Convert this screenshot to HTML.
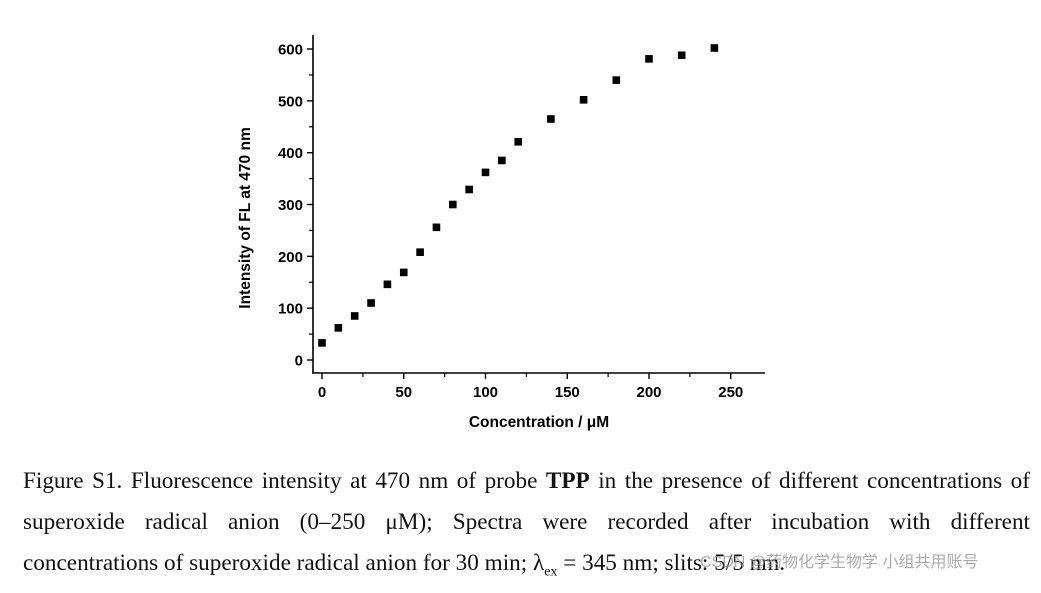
<!DOCTYPE html>
<html><head><meta charset="utf-8"><style>
body{margin:0;background:#fff;width:1041px;height:577px;overflow:hidden;position:relative;font-family:"Liberation Serif",serif}
.cap{position:absolute;left:23px;width:1007px;font-size:23.2px;line-height:41px;text-align:justify;text-align-last:justify;color:#111;white-space:nowrap}
.wm{position:absolute;left:700px;top:548px;font-family:"Liberation Sans","Noto Sans CJK SC",sans-serif;font-size:16px;color:rgba(150,150,150,0.8)}
</style></head><body>
<svg width="1041" height="450" style="position:absolute;left:0;top:0">
<g id="axes"></g><g id="pts"></g>
<text x="0" y="0" transform="translate(250,218) rotate(-90)" text-anchor="middle" font-family="Liberation Sans, sans-serif" font-weight="bold" font-size="15.5">Intensity of FL at 470 nm</text>
<text x="539" y="427" text-anchor="middle" font-family="Liberation Sans, sans-serif" font-weight="bold" font-size="15.5">Concentration / μM</text>
</svg>
<div class="cap" style="top:461px">Figure S1. Fluorescence intensity at 470 nm of probe <b>TPP</b> in the presence of different concentrations of</div>
<div class="cap" style="top:502px">superoxide radical anion (0–250 μM); Spectra were recorded after incubation with different</div>
<div class="cap" style="top:543px;text-align-last:left">concentrations of superoxide radical anion for 30 min; λ<sub style="font-size:14px">ex</sub> = 345 nm; slits: 5/5 nm.</div>
<div class="wm">CSDN @药物化学生物学 小组共用账号</div>
<script>
const xVals=[0,10,20,30,40,50,60,70,80,90,100,110,120,140,160,180,200,220,240];
const yVals=[33,62,85,110,146,169,208,256,300,329,362,385,421,465,502,540,581,588,602];
const xTicks=[0,50,100,150,200,250];
const yTicks=[0,100,200,300,400,500,600];
const NS="http://www.w3.org/2000/svg";
const X=v=>322+v*1.635, Y=v=>360-v*0.5183;
function mk(t,a,p){const e=document.createElementNS(NS,t);for(const k in a)e.setAttribute(k,a[k]);p.appendChild(e);return e;}
const ax=document.getElementById('axes'),pts=document.getElementById('pts');
let l=mk('line',{x1:313,y1:35,x2:313,y2:373,stroke:'#000','stroke-width':1.6},ax);


l=mk('line',{x1:312,y1:373,x2:765,y2:373,stroke:'#000','stroke-width':1.6},ax);


yTicks.forEach(v=>{mk('line',{x1:307,x2:313,y1:Y(v),y2:Y(v),stroke:'#000','stroke-width':1.4},ax);
 if(v<600)mk('line',{x1:309,x2:313,y1:Y(v+50),y2:Y(v+50),stroke:'#000','stroke-width':1.2},ax);
 const t=mk('text',{x:303,y:Y(v)+5.5,'text-anchor':'end','font-family':'Liberation Sans, sans-serif','font-weight':'bold','font-size':15},ax);t.textContent=v;
 
 });
xTicks.forEach(v=>{mk('line',{x1:X(v),x2:X(v),y1:373,y2:379,stroke:'#000','stroke-width':1.4},ax);
 if(v<250)mk('line',{x1:X(v+25),x2:X(v+25),y1:373,y2:377,stroke:'#000','stroke-width':1.2},ax);
 const t=mk('text',{x:X(v),y:397,'text-anchor':'middle','font-family':'Liberation Sans, sans-serif','font-weight':'bold','font-size':15},ax);t.textContent=v;
 
 });
xVals.forEach((x,i)=>{const r=mk('rect',{x:X(x)-3.8,y:Y(yVals[i])-3.8,width:7.6,height:7.6,fill:'#000'},pts);
 
 });
</script>
</body></html>
